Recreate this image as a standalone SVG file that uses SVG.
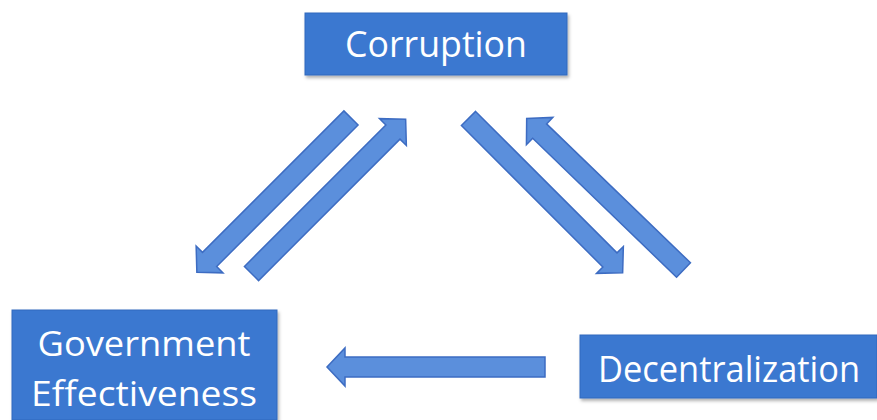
<svg xmlns="http://www.w3.org/2000/svg" width="877" height="420" viewBox="0 0 877 420">
  <style>
    .box { fill: #3b78d0; stroke: #3169bd; stroke-width: 1; filter: url(#shadow); }
    .label { font-family: "Open Sans", "Liberation Sans", sans-serif; fill: #ffffff; text-anchor: middle; }
    .arrow { fill: #5b8fdc; stroke: #3d6cc2; stroke-width: 1.5; stroke-linejoin: miter; }
  </style>
  <defs>
    <filter id="shadow" x="-10%" y="-10%" width="120%" height="130%">
      <feDropShadow dx="1.5" dy="2.5" stdDeviation="1.5" flood-color="#000000" flood-opacity="0.3"/>
    </filter>
    <!-- block arrow, tail at origin, pointing along +x -->
    <path id="blockArrow" d="M0,-10 L200,-10 L200,-19 L218,0 L200,19 L200,10 L0,10 Z"/>
  </defs>
  <rect width="877" height="420" fill="#ffffff"/>

  <g id="connectors">
    <use href="#blockArrow" class="arrow" transform="translate(351,118) rotate(135)"/>
    <use href="#blockArrow" class="arrow" transform="translate(251.5,273.5) rotate(-45)"/>
    <use href="#blockArrow" class="arrow" transform="translate(468.5,118.5) rotate(45)"/>
    <use href="#blockArrow" class="arrow" transform="translate(683.5,270) rotate(-136)"/>
    <use href="#blockArrow" class="arrow" transform="translate(545,367) rotate(180)"/>
  </g>

  <g id="corruption">
    <rect class="box" x="305" y="13" width="262" height="62"/>
    <text class="label" x="436" y="57" font-size="37" textLength="182" lengthAdjust="spacingAndGlyphs">Corruption</text>
  </g>

  <g id="government-effectiveness">
    <rect class="box" x="12" y="310" width="265" height="110"/>
    <text class="label" x="144" y="356" font-size="34" textLength="213" lengthAdjust="spacingAndGlyphs">Government</text>
    <text class="label" x="144" y="406" font-size="34" textLength="226" lengthAdjust="spacingAndGlyphs">Effectiveness</text>
  </g>

  <g id="decentralization">
    <rect class="box" x="580" y="335" width="297" height="63"/>
    <text class="label" x="729" y="382" font-size="36" textLength="262" lengthAdjust="spacingAndGlyphs">Decentralization</text>
  </g>
</svg>
